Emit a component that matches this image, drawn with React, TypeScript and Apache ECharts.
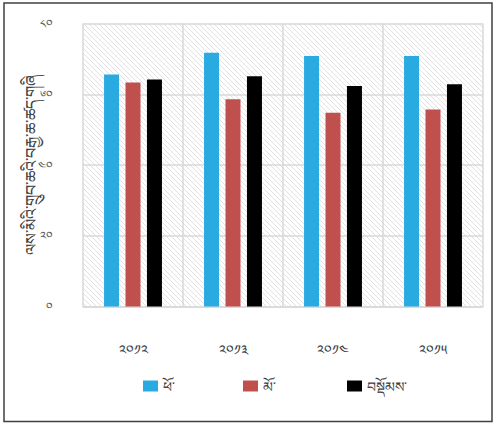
import React, { useEffect, useRef } from "react";
import * as echarts from "echarts";

const years = ["༢༠༡༢", "༢༠༡༣", "༢༠༡༤", "༢༠༡༥"];
const male = [65.6, 71.7, 70.8, 70.8];
const female = [63.3, 58.6, 54.8, 55.7];
const total = [64.2, 65.1, 62.3, 62.8];
const seriesNames = ["ཕོ་", "མོ་", "བསྡོམས་"];
const yTicks = [0, 20, 40, 60, 80];
const yTitle = "ལས་མིའི་གྲུབ་ཆའི་བརྒྱ་ཆ་ཚད་གཞི";

const tibDigits = "༠༡༢༣༤༥༦༧༨༩";
const toTib = (n: number) =>
  String(n)
    .split("")
    .map((c) => (c >= "0" && c <= "9" ? tibDigits[+c] : c))
    .join("");

function makeHatch() {
  const s = 5;
  const c = document.createElement("canvas");
  c.width = s;
  c.height = s;
  const ctx = c.getContext("2d")!;
  ctx.fillStyle = "#ffffff";
  ctx.fillRect(0, 0, s, s);
  ctx.strokeStyle = "#dedede";
  ctx.lineWidth = 0.9;
  ctx.beginPath();
  ctx.moveTo(-1, -1);
  ctx.lineTo(s + 1, s + 1);
  ctx.moveTo(-1, s - 1);
  ctx.lineTo(1, s + 1);
  ctx.moveTo(s - 1, -1);
  ctx.lineTo(s + 1, 1);
  ctx.stroke();
  return c;
}

export default function App() {
  const ref = useRef<HTMLDivElement>(null);
  useEffect(() => {
    const chart = echarts.init(ref.current!, undefined, { renderer: "svg" });
    const font = "'Noto Sans', 'DejaVu Sans', sans-serif";
    chart.setOption({
      animation: false,
      backgroundColor: "#ffffff",
      textStyle: { fontFamily: font },
      grid: {
        left: 83,
        right: 13,
        top: 23.5,
        bottom: 118.5,
        show: true,
        borderWidth: 0,
        backgroundColor: { image: makeHatch(), repeat: "repeat" },
      },
      graphic: [
        {
          type: "rect",
          shape: { x: 4, y: 3, width: 488, height: 418.5 },
          style: { fill: "none", stroke: "#404040", lineWidth: 1.5 },
          z: 100,
        },
      ],
      legend: seriesNames.map((n, i) => ({
        data: [n],
        left: [138, 238, 342][i],
        top: 374,
        itemWidth: 15,
        itemHeight: 11,
        itemGap: 8,
        icon: "rect",
        textStyle: { fontSize: 14, color: "#404040", fontFamily: font },
      })),
      xAxis: {
        type: "category",
        data: years,
        axisLine: { show: true, lineStyle: { color: "#d9d9d9", width: 1.5 } },
        axisTick: { show: false },
        splitLine: { show: true, lineStyle: { color: "#d9d9d9", width: 1.5 } },
        axisLabel: { margin: 36, fontSize: 14, color: "#404040" },
      },
      yAxis: {
        type: "value",
        min: 0,
        max: 80,
        interval: 20,
        name: yTitle,
        nameLocation: "middle",
        nameGap: 44,
        nameMoveOverlap: false,
        nameRotate: 90,
        nameTextStyle: { fontSize: 16, color: "#404040" },
        axisLine: { show: false },
        axisTick: { show: false },
        splitLine: { show: true, lineStyle: { color: "#d9d9d9", width: 1.5 } },
        axisLabel: {
          margin: 30,
          fontSize: 12,
          color: "#595959",
          formatter: (v: number) => (yTicks.includes(v) ? toTib(v) : ""),
        },
      },
      series: [
        { name: seriesNames[0], type: "bar", data: male, itemStyle: { color: "#29abe2" } },
        { name: seriesNames[1], type: "bar", data: female, itemStyle: { color: "#c0504d" } },
        { name: seriesNames[2], type: "bar", data: total, itemStyle: { color: "#000000" } },
      ].map((s) => ({ ...s, barWidth: 15, barGap: "43%" })),
    });
    return () => chart.dispose();
  }, []);
  return (
    <div
      ref={ref}
      style={{ position: "fixed", left: 0, top: 0, width: 496, height: 425 }}
    />
  );
}
